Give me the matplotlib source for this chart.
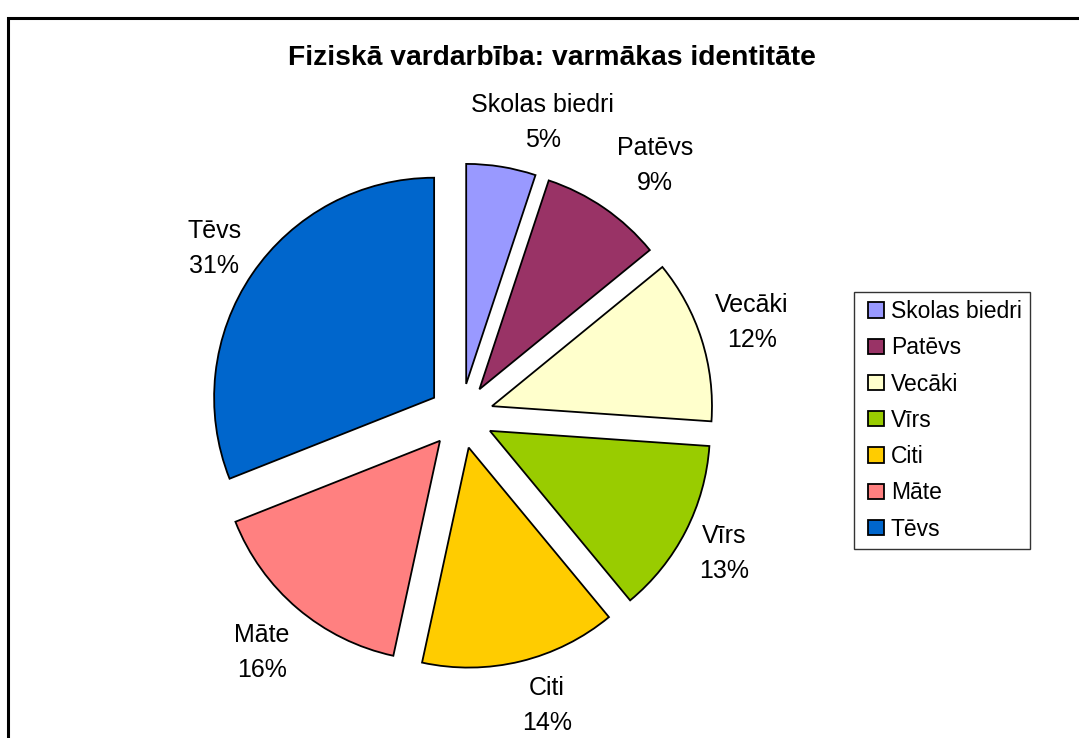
import matplotlib
matplotlib.use("Agg")
import matplotlib.pyplot as plt
import numpy as np
from matplotlib.patches import Rectangle
from matplotlib.legend_handler import HandlerPatch

plt.rcParams['font.family'] = ['Liberation Sans', 'DejaVu Sans']

categories = ["Skolas biedri", "Patēvs", "Vecāki", "Vīrs", "Citi", "Māte", "Tēvs"]
values = [5.1, 9.0, 12.0, 12.9, 14.4, 15.6, 31.0]
colors = ["#9999FF", "#993366", "#FFFFCC", "#99CC00", "#FFCC00", "#FF8080", "#0066CC"]
title = "Fiziskā vardarbība: varmākas identitāte"

W, H = 1079, 738
fig = plt.figure(figsize=(W / 100, H / 100), dpi=100)
ax = fig.add_axes([0, 0, 1, 1])

cx, cy, R = 461, H - 416, 220
explode_px = 32.5
wedges, _ = ax.pie(values, colors=colors, startangle=90, counterclock=False,
                   center=(cx, cy), radius=R,
                   explode=[explode_px] * len(values),
                   wedgeprops=dict(edgecolor='black', linewidth=1.3),
                   frame=True)
ax.set_xlim(0, W)
ax.set_ylim(0, H)
ax.set_aspect('equal')
ax.axis('off')

# data labels
label_r = [305, 317, 305.6, 297, 302, 308.7, 298.4]
label_shift = [-6.4, -3.2, 0.2, -0.5, 2.8, 0.2, 0.0]
total = sum(values)
for w, cat, v, lr, sh in zip(wedges, categories, values, label_r, label_shift):
    mid = np.deg2rad((w.theta1 + w.theta2) / 2 + sh)
    x = cx + lr * np.cos(mid)
    y = cy + lr * np.sin(mid)
    ax.text(x, y, f"{cat}\n{round(100 * v / total)}%", ha='center', va='center',
            fontsize=18, linespacing=1.58)

fig.text(552 / W, 1 - 58 / H, title, ha='center', va='center',
         fontsize=20.3, fontweight='bold')

# chart border (extends beyond image to right/bottom)
fig.patches.append(Rectangle((8 / W, -0.1), 1.2, 1 - 18 / H + 0.1,
                             transform=fig.transFigure, fill=False,
                             edgecolor='black', linewidth=2.2))


def square_handle(legend, orig_handle, xdescent, ydescent, width, height, fontsize):
    return Rectangle((-xdescent + width - height, -ydescent), height, height)


leg = fig.legend(wedges, categories, loc='upper left',
                 bbox_to_anchor=(854 / W, 1 - 292 / H),
                 fontsize=16.5, frameon=True, fancybox=False,
                 edgecolor='black', handlelength=0.95, handleheight=0.65,
                 handletextpad=0.3, labelspacing=0.58, borderpad=0.35,
                 borderaxespad=0,
                 handler_map={matplotlib.patches.Wedge: HandlerPatch(patch_func=square_handle)})
leg.get_frame().set_linewidth(1.0)

fig.savefig("out.png", dpi=100)
